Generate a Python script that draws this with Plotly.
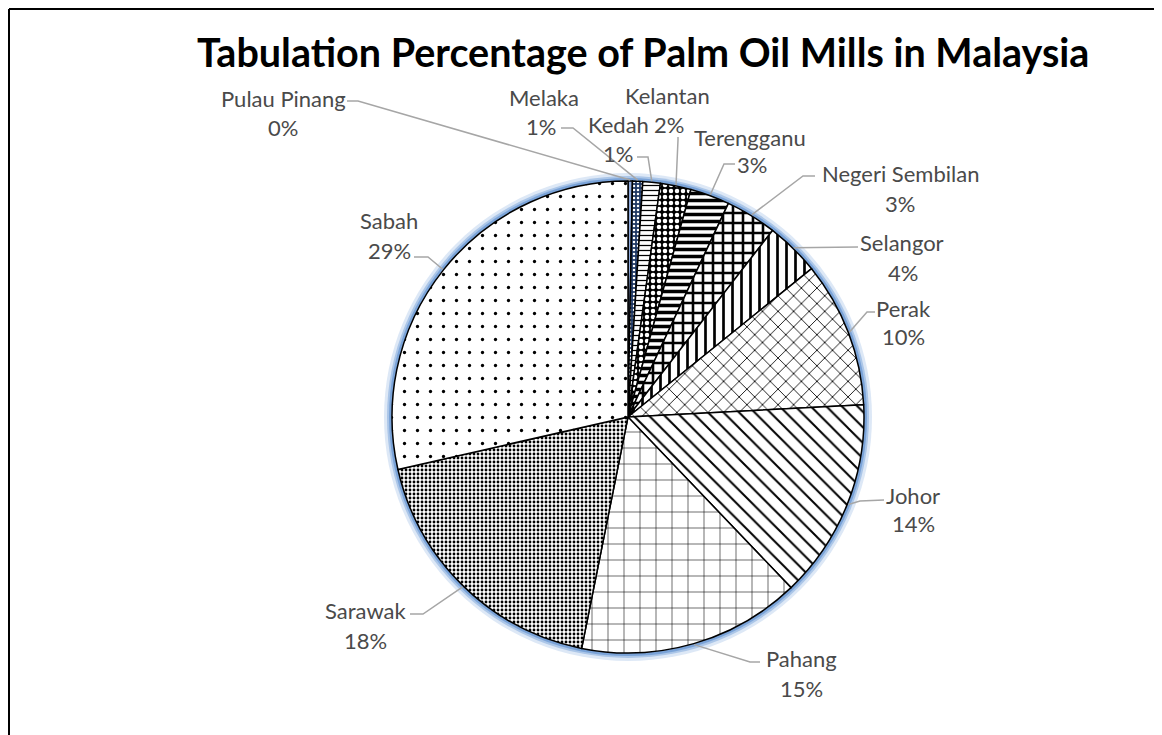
import math
import plotly.graph_objects as go

W, H = 1162, 735
OFF = 8  # page margin of the html body

# data (percent share of mills per state)
states = ["Pulau Pinang", "Melaka", "Kedah", "Kelantan", "Terengganu", "Negeri Sembilan",
          "Selangor", "Perak", "Johor", "Pahang", "Sarawak", "Sabah"]
share = [0.3, 0.7, 1.2, 2.1, 2.7, 3.5, 3.7, 10.0, 13.7, 15.3, 18.3, 28.6]

# pie geometry in screen pixels
CX, CY, R = 628, 417, 236

# pattern per slice
pat_shape = ["", ".", "-", ".", "-", "+", "|", "x", "\\", "+", ".", "."]
pat_bg = ["#8faadc", "#1f3864", "white", "black", "white", "white", "white", "white", "white", "white", "white", "white"]
pat_fg = ["#2f5597", "white", "black", "white", "black", "black", "black", "black", "black", "black", "black", "black"]
pat_size = [4, 4, 5, 6, 7, 10, 9, 11, 11, 16, 4, 13]
pat_solid = [0.3, 0.3, 0.25, 0.45, 0.5, 0.45, 0.3, 0.15, 0.18, 0.07, 0.4, 0.05]

# label placement (screen pixel centres of name line / percent line) and leader start/elbow
lab_name_xy = [(283, 98), (544, 97), (618, 124), (667, 96), (750, 137), (900, 173),
               (902, 242), (903, 308), (913, 495), (801, 658), (365, 610), (389, 220)]
lab_pct_xy = [(283, 128), (541, 126), (618, 153), (669, 124), (752, 164), (900, 203),
              (903, 272), (903, 336), (913, 523), (801, 688), (365, 640), (389, 250)]
lead_start = [(347, 101), (561, 128), (637, 157), (678, 137), (735, 164), (815, 176),
              (858, 247), (875, 312), (884, 500), (760, 662), (410, 614), (414, 257)]
lead_elbow = [(358, 101), (573, 128), (648, 157), (678, 140), (724, 164), (803, 176),
              (858, 247), (867, 312), (860, 501), (750, 662), (423, 614), (428, 257)]


def px(x):
    return (x - OFF) / W


def py(y):
    return 1 - (y - OFF) / H


def dom(r):
    return dict(x=[px(CX - r), px(CX + r)], y=[py(CY + r), py(CY - r)])


fig = go.Figure()

# soft blue glow round the pie
for extra, col in [(8, "rgba(180,205,235,0.45)"), (5, "rgba(130,170,220,0.55)"), (3, "rgba(90,140,205,0.6)")]:
    fig.add_trace(go.Pie(values=[1], domain=dom(R + extra), sort=False, textinfo="none",
                         hoverinfo="skip", showlegend=False,
                         marker=dict(colors=[col], line=dict(width=0))))

fig.add_trace(go.Pie(
    labels=states,
    values=share,
    sort=False,
    direction="clockwise",
    rotation=0,
    domain=dom(R),
    textinfo="none",
    hoverinfo="label+percent",
    showlegend=False,
    marker=dict(
        colors=pat_bg,
        line=dict(color="black", width=1.5),
        pattern=dict(shape=pat_shape, bgcolor=pat_bg, fgcolor=pat_fg, size=pat_size,
                     solidity=pat_solid, fillmode="replace"),
    ),
))

total = sum(share)
shapes = []
annotations = []
cum = 0
lab_font = dict(family="Lato, Open Sans, sans-serif", size=22, color="#4a4a4a")
for i, name in enumerate(states):
    mid = (cum + share[i] / 2) / total * 2 * math.pi
    cum += share[i]
    ex = CX + (R + 1) * math.sin(mid)
    ey = CY - (R + 1) * math.cos(mid)
    (sx, sy), (bx, by) = lead_start[i], lead_elbow[i]
    path = f"M {px(sx)},{py(sy)} L {px(bx)},{py(by)} L {px(ex)},{py(ey)}"
    shapes.append(dict(type="path", path=path, xref="paper", yref="paper",
                       line=dict(color="#a6a6a6", width=1.5)))
    pct = round(share[i] / total * 100)
    annotations.append(dict(x=px(lab_name_xy[i][0]), y=py(lab_name_xy[i][1]), xref="paper", yref="paper",
                            text=name, showarrow=False, xanchor="center", yanchor="middle", font=lab_font))
    annotations.append(dict(x=px(lab_pct_xy[i][0]), y=py(lab_pct_xy[i][1]), xref="paper", yref="paper",
                            text=f"{pct}%", showarrow=False, xanchor="center", yanchor="middle", font=lab_font))

annotations.append(dict(x=px(643), y=py(52), xref="paper", yref="paper",
                        text="<b>Tabulation Percentage of Palm Oil Mills in Malaysia</b>",
                        showarrow=False, xanchor="center", yanchor="middle",
                        font=dict(family="Lato, Open Sans, sans-serif", size=39.5, color="black")))

# chart frame (only left and top edges fall inside the picture)
shapes.append(dict(type="line", xref="paper", yref="paper", x0=px(9), y0=py(9), x1=px(9), y1=0,
                   line=dict(color="black", width=2)))
shapes.append(dict(type="line", xref="paper", yref="paper", x0=px(9), y0=py(9), x1=1, y1=py(9),
                   line=dict(color="black", width=2)))

fig.update_layout(
    width=W,
    height=H,
    margin=dict(l=0, r=0, t=0, b=0),
    paper_bgcolor="white",
    plot_bgcolor="white",
    shapes=shapes,
    annotations=annotations,
)

fig.write_html("out.html")
